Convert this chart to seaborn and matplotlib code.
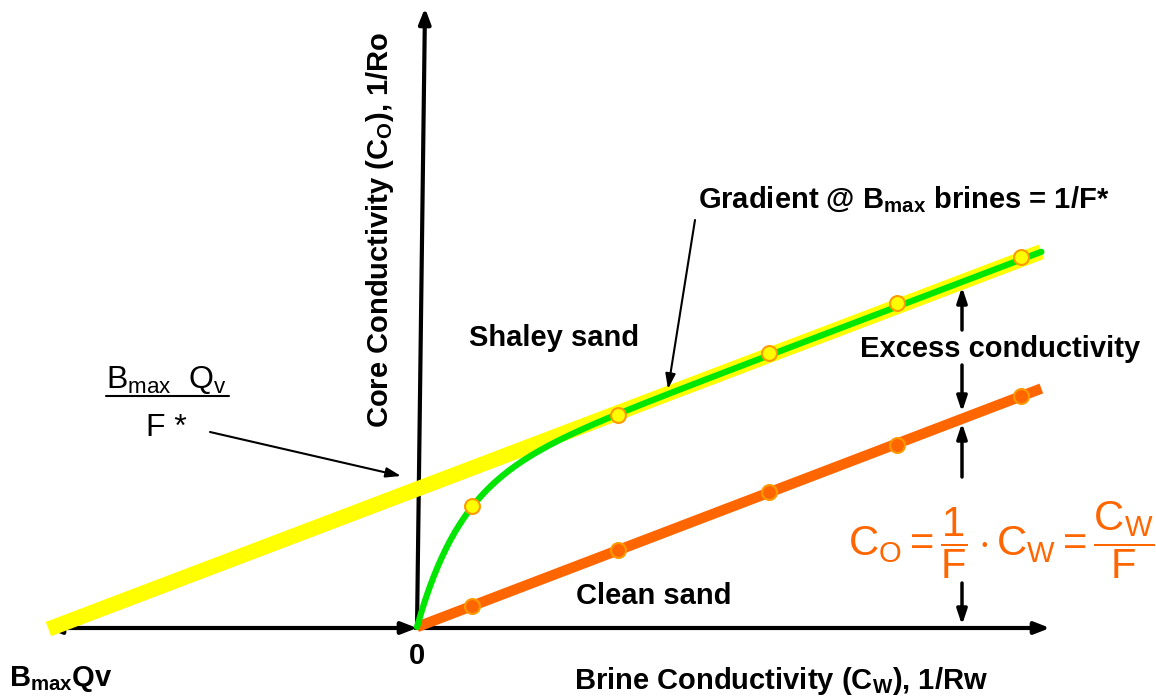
import numpy as np
import pandas as pd
import matplotlib
matplotlib.use("Agg")
import matplotlib.pyplot as plt
import seaborn as sns

# Measured brine / core conductivity pairs (arbitrary units, 1 unit ~ 0.1 of the plot width)
cw_points = [0.55, 2.0, 3.5, 4.77, 6.0]
co_clean = [0.21, 0.76, 1.34, 1.81, 2.29]
co_shaley = [1.20, 2.11, 2.72, 3.22, 3.67]

# Straight-line parameters of the shaley-sand asymptote
intercept_bqv_f = 1.37      # Bmax*Qv / F*
x_intercept_bqv = -3.66     # -Bmax*Qv
gradient_end_cw = 6.2       # right end of the drawn lines
inv_f = 0.382               # 1/F for the clean sand
inv_fstar = 0.38            # 1/F* for the shaley sand
b_rise = 0.43               # rate at which counter-ion conduction reaches Bmax

sns.set_style("white")
plt.rcParams["font.family"] = ["Liberation Sans", "DejaVu Sans"]
plt.rcParams["mathtext.fontset"] = "custom"
plt.rcParams["mathtext.rm"] = "Liberation Sans"
plt.rcParams["mathtext.it"] = "Liberation Sans"
plt.rcParams["mathtext.bf"] = "Liberation Sans:bold"

fig = plt.figure(figsize=(11.56, 6.96), dpi=100)
ax = fig.add_axes([0, 0, 1, 1])
scale = 100.7
ax.set_xlim(-417 / scale, (1156 - 417) / scale)
ax.set_ylim(-69 / scale, 627 / scale)
ax.set_axis_off()

YELLOW = "#FFFF00"
GREEN = "#00E600"
ORANGE = "#FF6600"
EDGE = "#FF9900"

# Shaley sand asymptote (thick yellow)
asym = pd.DataFrame({"cw": [x_intercept_bqv, gradient_end_cw]})
asym["co"] = intercept_bqv_f + inv_fstar * asym["cw"]
sns.lineplot(data=asym, x="cw", y="co", ax=ax, color=YELLOW, lw=11,
             solid_capstyle="butt", zorder=2)

# Clean sand line
clean = pd.DataFrame({"cw": [0.0, gradient_end_cw]})
clean["co"] = inv_f * clean["cw"]
sns.lineplot(data=clean, x="cw", y="co", ax=ax, color=ORANGE, lw=7.5,
             solid_capstyle="butt", zorder=3)

# Shaley sand response: Waxman-Smits style with B rising to Bmax
cw_curve = np.linspace(0.0, gradient_end_cw, 300)
co_curve = inv_fstar * cw_curve + intercept_bqv_f * (1 - np.exp(-cw_curve / b_rise))
sns.lineplot(x=cw_curve, y=co_curve, ax=ax, color=GREEN, lw=4.5,
             sort=False, zorder=4)

# Data points
sns.scatterplot(x=cw_points, y=co_clean, ax=ax, s=115, color=ORANGE,
                edgecolor=EDGE, linewidth=1.5, zorder=6)
sns.scatterplot(x=cw_points, y=co_shaley, ax=ax, s=115, color=YELLOW,
                edgecolor=EDGE, linewidth=1.5, zorder=6)

def px(x, y):
    return ((x - 417) / scale, (627 - y) / scale)

arrow_kw = dict(arrowstyle="-|>,head_length=0.9,head_width=0.35", color="black",
                lw=3, shrinkA=0, shrinkB=0)

# Axes drawn as arrows
ax.annotate("", xy=px(425, 8), xytext=px(417, 628), arrowprops=arrow_kw, zorder=1)
ax.annotate("", xy=px(1050, 628), xytext=px(415, 628), arrowprops=arrow_kw, zorder=1)
ax.annotate("", xy=px(46, 628), xytext=px(417, 628),
            arrowprops=dict(arrowstyle="<|-|>,head_length=0.9,head_width=0.35",
                            color="black", lw=3, shrinkA=0, shrinkB=0), zorder=1)

thin = dict(arrowstyle="-|>,head_length=0.9,head_width=0.3", color="black",
            lw=1.5, shrinkA=0, shrinkB=0)
thick = dict(arrowstyle="-|>,head_length=0.9,head_width=0.3", color="black",
             lw=2.5, shrinkA=0, shrinkB=0)

# Pointer arrows
ax.annotate("", xy=px(401, 476), xytext=px(210, 432), arrowprops=thin, zorder=7)
ax.annotate("", xy=px(668, 389), xytext=px(695, 220), arrowprops=thin, zorder=7)

# Excess conductivity and clean sand span arrows
ax.annotate("", xy=px(962, 287), xytext=px(962, 330), arrowprops=thick, zorder=7)
ax.annotate("", xy=px(962, 412), xytext=px(962, 365), arrowprops=thick, zorder=7)
ax.annotate("", xy=px(962, 423), xytext=px(962, 477), arrowprops=thick, zorder=7)
ax.annotate("", xy=px(962, 625), xytext=px(962, 583), arrowprops=thick, zorder=7)

bold = dict(fontweight="bold", color="black", fontsize=21)

ax.text(*px(417, 656), "0", ha="center", va="center", **bold)
ax.text(*px(9, 686), r"B$_{\mathbf{max}}$Qv", ha="left", va="baseline", **bold)
ax.text(*px(781, 689), r"Brine Conductivity (C$_{\mathbf{W}}$), 1/Rw",
        ha="center", va="baseline", **bold)
ax.text(*px(380, 230), r"Core Conductivity (C$_{\mathbf{O}}$), 1/Ro",
        ha="center", va="center", rotation=90, **bold)
ax.text(*px(554, 338), "Shaley sand", ha="center", va="center", **bold)
ax.text(*px(654, 596), "Clean sand", ha="center", va="center", **bold)
ax.text(*px(904, 200), r"Gradient @ B$_{\mathbf{max}}$ brines = 1/F*",
        ha="center", va="center", **bold)
ax.text(*px(1000, 349), "Excess conductivity", ha="center", va="center", **bold)

# Bmax Qv / F* fraction
ax.text(*px(166, 388), r"B$_{\mathrm{max}}$  Q$_{\mathrm{v}}$", ha="center",
        va="baseline", fontsize=23, color="black")
ax.plot([px(106, 0)[0], px(229, 0)[0]], [px(0, 396)[1]] * 2, color="black", lw=1.5)
ax.text(*px(166, 436), "F *", ha="center", va="baseline", fontsize=23, color="black")

# Archie relation for clean sands
ax.text(*px(1001, 540),
        r"$\mathrm{C_O = \dfrac{1}{F} \cdot C_W = \dfrac{C_W}{F}}$",
        ha="center", va="center", fontsize=30, color=ORANGE)

fig.savefig("out.png", dpi=100)
